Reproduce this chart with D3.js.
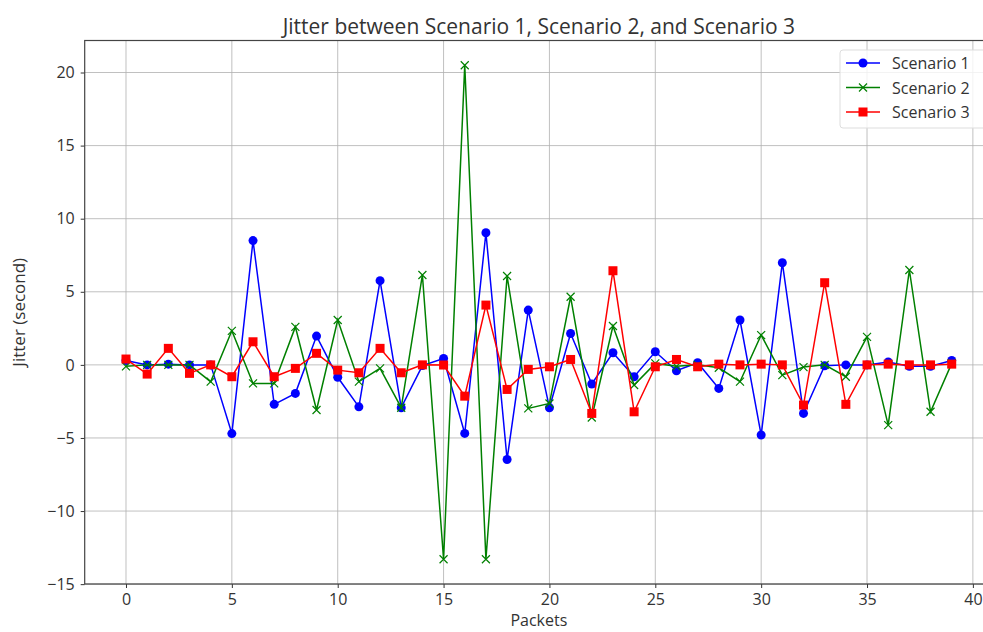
<!DOCTYPE html>
<html>
<head>
<meta charset="utf-8">
<script src="https://cdn.jsdelivr.net/npm/d3@7"></script>
<style>
  body { margin: 0; background: #fff; overflow: hidden; }
  text { font-family: "Open Sans", "Noto Sans", sans-serif; fill: #333; }
</style>
</head>
<body>
<script>
// data
var packets = d3.range(40);
var scenario1 = [0.3, 0, 0.05, 0, 0, -4.7, 8.5, -2.7, -1.95, 1.97, -0.85, -2.87, 5.76, -2.93, -0.05, 0.44, -4.69, 9.04, -6.47, 3.75,
                 -2.93, 2.15, -1.31, 0.83, -0.81, 0.9, -0.4, 0.15, -1.61, 3.07, -4.8, 6.99, -3.32, -0.06, 0, 0, 0.2, -0.1, -0.1, 0.3];
var scenario2 = [-0.1, 0, 0, 0, -1.15, 2.33, -1.27, -1.27, 2.6, -3.09, 3.07, -1.15, -0.24, -2.93, 6.15, -13.3, 20.5, -13.3, 6.08, -2.98,
                 -2.64, 4.66, -3.6, 2.66, -1.38, 0.1, -0.1, 0, -0.2, -1.15, 2.04, -0.7, -0.15, 0, -0.81, 1.92, -4.12, 6.49, -3.21, 0.1];
var scenario3 = [0.4, -0.63, 1.13, -0.58, 0, -0.81, 1.58, -0.81, -0.24, 0.79, -0.36, -0.54, 1.13, -0.54, 0, -0.01, -2.14, 4.09, -1.68, -0.31,
                 -0.13, 0.37, -3.32, 6.44, -3.21, -0.13, 0.37, -0.13, 0.05, 0, 0.05, 0, -2.75, 5.62, -2.7, 0, 0.05, 0, 0, 0.05];
var seriesNames = ["Scenario 1", "Scenario 2", "Scenario 3"];
var xTicks = [0, 5, 10, 15, 20, 25, 30, 35, 40];
var yTicks = [-15, -10, -5, 0, 5, 10, 15, 20];

var series = [
  {name: seriesNames[0], values: scenario1, color: "#0000ff", marker: "circle"},
  {name: seriesNames[1], values: scenario2, color: "#008000", marker: "x"},
  {name: seriesNames[2], values: scenario3, color: "#ff0000", marker: "square"}
];

var width = 983, height = 632;
// plot runs past the right edge, as in the cropped original
var margin = {top: 40.5, left: 84.7, right: -10, bottom: 48};

var svg = d3.select("body").append("svg")
    .attr("width", width)
    .attr("height", height);

var x = d3.scaleLinear().domain([-1.95, 40.95]).range([margin.left, width - margin.right]);
var y = d3.scaleLinear().domain([-14.99, 22.19]).range([height - margin.bottom, margin.top]);

// grid
svg.append("g").selectAll("line").data(xTicks).join("line")
    .attr("x1", d => x(d)).attr("x2", d => x(d))
    .attr("y1", y.range()[1]).attr("y2", y.range()[0])
    .attr("stroke", "#b0b0b0").attr("stroke-width", 0.8);
svg.append("g").selectAll("line").data(yTicks).join("line")
    .attr("x1", x.range()[0]).attr("x2", x.range()[1])
    .attr("y1", d => y(d)).attr("y2", d => y(d))
    .attr("stroke", "#b0b0b0").attr("stroke-width", 0.8);

// axes
var xAxis = svg.append("g")
    .attr("transform", "translate(0," + y.range()[0] + ")")
    .call(d3.axisBottom(x).tickValues(xTicks).tickSize(4).tickPadding(6));
var yAxis = svg.append("g")
    .attr("transform", "translate(" + x.range()[0] + ",0)")
    .call(d3.axisLeft(y).tickValues(yTicks).tickSize(4).tickPadding(6)
      .tickFormat(d => d < 0 ? "\u2212" + Math.abs(d) : d));
[xAxis, yAxis].forEach(function(a) {
  a.select(".domain").remove();
  a.selectAll("line").attr("stroke", "#333");
  a.selectAll("text").attr("font-size", 16).attr("fill", "#333")
    .style("font-family", "'Open Sans', sans-serif");
});

// frame
svg.append("rect")
    .attr("x", x.range()[0]).attr("y", y.range()[1])
    .attr("width", x.range()[1] - x.range()[0])
    .attr("height", y.range()[0] - y.range()[1])
    .attr("fill", "none").attr("stroke", "#444").attr("stroke-width", 1.2);

// lines and markers
var line = d3.line().x((d, i) => x(packets[i])).y(d => y(d));

series.forEach(function(s) {
  var g = svg.append("g");
  g.append("path").datum(s.values)
      .attr("d", line)
      .attr("fill", "none")
      .attr("stroke", s.color)
      .attr("stroke-width", 1.5);
  drawMarkers(g, s);
});

function drawMarkers(g, s) {
  var pts = g.selectAll(".m").data(s.values).join("g")
      .attr("transform", (d, i) => "translate(" + x(packets[i]) + "," + y(d) + ")");
  if (s.marker == "circle") {
    pts.append("circle").attr("r", 4.5).attr("fill", s.color);
  } else if (s.marker == "square") {
    pts.append("rect").attr("x", -4.5).attr("y", -4.5).attr("width", 9).attr("height", 9).attr("fill", s.color);
  } else {
    pts.append("path").attr("d", "M-4,-4L4,4M-4,4L4,-4")
      .attr("stroke", s.color).attr("stroke-width", 1.2);
  }
}

// title and labels
svg.append("text")
    .attr("x", (x.range()[0] + x.range()[1]) / 2)
    .attr("y", 34)
    .attr("text-anchor", "middle")
    .attr("font-size", 21)
    .text("Jitter between Scenario 1, Scenario 2, and Scenario 3");

svg.append("text")
    .attr("x", (x.range()[0] + x.range()[1]) / 2)
    .attr("y", 626)
    .attr("text-anchor", "middle")
    .attr("font-size", 16)
    .text("Packets");

svg.append("text")
    .attr("transform", "translate(25," + ((y.range()[0] + y.range()[1]) / 2) + ") rotate(-90)")
    .attr("text-anchor", "middle")
    .attr("font-size", 17)
    .text("Jitter (second)");

// legend
var legend = svg.append("g").attr("transform", "translate(840,50)");
legend.append("rect")
    .attr("width", 150).attr("height", 78).attr("rx", 3)
    .attr("fill", "#fff").attr("fill-opacity", 0.8)
    .attr("stroke", "#ddd");
series.forEach(function(s, i) {
  var row = legend.append("g").attr("transform", "translate(0," + (13 + i * 24.5) + ")");
  row.append("line").attr("x1", 6).attr("x2", 40)
      .attr("stroke", s.color).attr("stroke-width", 1.5);
  var m = row.append("g").attr("transform", "translate(23,0)");
  if (s.marker == "circle") m.append("circle").attr("r", 4.5).attr("fill", s.color);
  else if (s.marker == "square") m.append("rect").attr("x", -4.5).attr("y", -4.5).attr("width", 9).attr("height", 9).attr("fill", s.color);
  else m.append("path").attr("d", "M-4,-4L4,4M-4,4L4,-4").attr("stroke", s.color).attr("stroke-width", 1.2);
  row.append("text").attr("x", 52).attr("y", 6)
      .attr("font-size", 16).text(s.name);
});
</script>
</body>
</html>
